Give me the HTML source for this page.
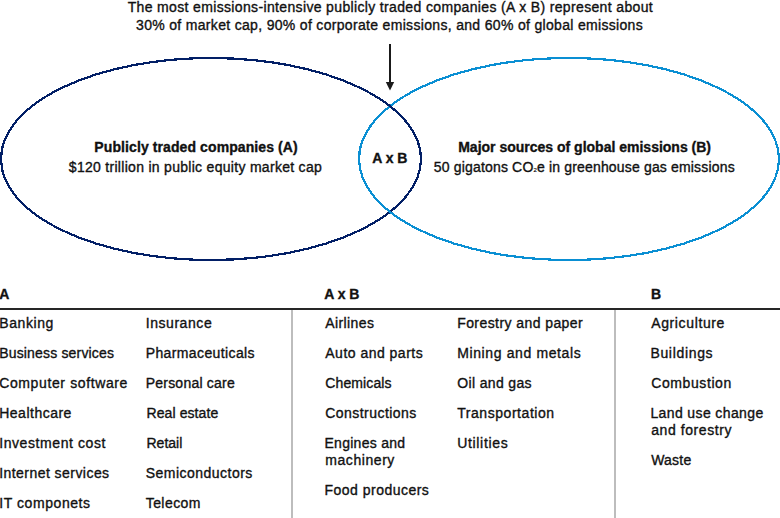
<!DOCTYPE html>
<html><head><meta charset="utf-8"><style>
html,body{margin:0;padding:0;background:#fff;width:780px;height:518px;overflow:hidden;position:relative}
.tx{position:absolute;font-family:"Liberation Sans",sans-serif;font-size:14px;line-height:20px;color:#111;white-space:nowrap;-webkit-text-stroke:0.35px #111}
.tx.c{width:600px;text-align:center}
.sub{font-size:6px;vertical-align:0;line-height:0;-webkit-text-stroke:0.2px #111}
svg{position:absolute;left:0;top:0}
</style></head><body>
<svg width="780" height="518" viewBox="0 0 780 518">
<ellipse cx="569" cy="159" rx="210" ry="101" fill="none" stroke="#0a8fd3" stroke-width="2.2" shape-rendering="crispEdges"/>
<ellipse cx="211" cy="159" rx="210" ry="101" fill="none" stroke="#021f66" stroke-width="2.2" shape-rendering="crispEdges"/>
<clipPath id="cb"><rect x="0" y="160" width="780" height="120"/></clipPath>
<ellipse clip-path="url(#cb)" cx="569" cy="159" rx="210" ry="101" fill="none" stroke="#0a8fd3" stroke-width="2.2" shape-rendering="crispEdges"/>
<line x1="390" y1="44" x2="390" y2="83" stroke="#1a1a1a" stroke-width="2"/>
<path d="M385.8 82 L394.2 82 L390 90.5 Z" fill="#1a1a1a"/>
<rect x="0" y="308" width="780" height="2" fill="#262626"/>
<rect x="291" y="310" width="2" height="208" fill="#bdbdbd"/>
<rect x="614" y="310" width="2" height="208" fill="#bdbdbd"/>
</svg>
<div id="t1" class="tx" style="left:127.65px;top:-3.00px;font-weight:400;letter-spacing:0.351px">The most emissions-intensive publicly traded companies (A x B) represent about</div>
<div id="t2" class="tx" style="left:136.04px;top:14.50px;font-weight:400;letter-spacing:0.321px">30% of market cap, 90% of corporate emissions, and 60% of global emissions</div>
<div id="e1" class="tx" style="left:94.32px;top:136.50px;font-weight:700;letter-spacing:0.096px">Publicly traded companies (A)</div>
<div id="e2" class="tx" style="left:68.82px;top:156.60px;font-weight:400;letter-spacing:0.293px">$120 trillion in public equity market cap</div>
<div id="e3" class="tx" style="left:458.20px;top:136.50px;font-weight:700;letter-spacing:0.000px">Major sources of global emissions (B)</div>
<div id="e4" class="tx" style="left:433.82px;top:156.60px;font-weight:400;letter-spacing:0.167px">50 gigatons CO<span class=sub>2</span>e in greenhouse gas emissions</div>
<div id="ax" class="tx" style="left:372.20px;top:147.82px;font-weight:700;letter-spacing:0.000px">A x B</div>
<div id="hA" class="tx" style="left:-0.80px;top:283.82px;font-weight:700;letter-spacing:0.000px">A</div>
<div id="hAB" class="tx" style="left:324.20px;top:283.82px;font-weight:700;letter-spacing:-0.000px">A x B</div>
<div id="hB" class="tx" style="left:651.00px;top:283.82px;font-weight:700;letter-spacing:0.000px">B</div>
<div id="c0_1" class="tx" style="left:-0.80px;top:313.00px;font-weight:400;letter-spacing:0.600px">Banking</div>
<div id="c0_2" class="tx" style="left:-0.80px;top:343.00px;font-weight:400;letter-spacing:0.169px">Business services</div>
<div id="c0_3" class="tx" style="left:-0.80px;top:373.00px;font-weight:400;letter-spacing:0.619px">Computer software</div>
<div id="c0_4" class="tx" style="left:-0.80px;top:403.00px;font-weight:400;letter-spacing:0.500px">Healthcare</div>
<div id="c0_5" class="tx" style="left:-0.80px;top:433.00px;font-weight:400;letter-spacing:0.579px">Investment cost</div>
<div id="c0_6" class="tx" style="left:-0.80px;top:463.00px;font-weight:400;letter-spacing:0.450px">Internet services</div>
<div id="c0_7" class="tx" style="left:-0.80px;top:493.00px;font-weight:400;letter-spacing:0.573px">IT componets</div>
<div id="c1_8" class="tx" style="left:145.70px;top:313.00px;font-weight:400;letter-spacing:0.562px">Insurance</div>
<div id="c1_9" class="tx" style="left:145.70px;top:343.00px;font-weight:400;letter-spacing:0.386px">Pharmaceuticals</div>
<div id="c1_10" class="tx" style="left:145.70px;top:373.00px;font-weight:400;letter-spacing:0.225px">Personal care</div>
<div id="c1_11" class="tx" style="left:146.50px;top:403.00px;font-weight:400;letter-spacing:0.090px">Real estate</div>
<div id="c1_12" class="tx" style="left:146.50px;top:433.00px;font-weight:400;letter-spacing:-0.000px">Retail</div>
<div id="c1_13" class="tx" style="left:145.70px;top:463.00px;font-weight:400;letter-spacing:0.485px">Semiconductors</div>
<div id="c1_14" class="tx" style="left:145.70px;top:493.00px;font-weight:400;letter-spacing:0.450px">Telecom</div>
<div id="c2_15" class="tx" style="left:325.30px;top:313.00px;font-weight:400;letter-spacing:0.386px">Airlines</div>
<div id="c2_16" class="tx" style="left:325.30px;top:343.00px;font-weight:400;letter-spacing:0.485px">Auto and parts</div>
<div id="c2_17" class="tx" style="left:325.30px;top:373.00px;font-weight:400;letter-spacing:0.113px">Chemicals</div>
<div id="c2_18" class="tx" style="left:325.30px;top:403.00px;font-weight:400;letter-spacing:0.450px">Constructions</div>
<div id="c2_19" class="tx" style="left:324.50px;top:433.00px;font-weight:400;letter-spacing:0.270px">Engines and</div>
<div id="c2_20" class="tx" style="left:325.30px;top:450.00px;font-weight:400;letter-spacing:0.562px">machinery</div>
<div id="c2_21" class="tx" style="left:324.50px;top:480.00px;font-weight:400;letter-spacing:0.485px">Food producers</div>
<div id="c3_22" class="tx" style="left:457.20px;top:313.00px;font-weight:400;letter-spacing:0.424px">Forestry and paper</div>
<div id="c3_23" class="tx" style="left:457.20px;top:343.00px;font-weight:400;letter-spacing:0.619px">Mining and metals</div>
<div id="c3_24" class="tx" style="left:457.20px;top:373.00px;font-weight:400;letter-spacing:0.360px">Oil and gas</div>
<div id="c3_25" class="tx" style="left:457.20px;top:403.00px;font-weight:400;letter-spacing:0.554px">Transportation</div>
<div id="c3_26" class="tx" style="left:457.20px;top:433.00px;font-weight:400;letter-spacing:0.675px">Utilities</div>
<div id="c4_27" class="tx" style="left:651.20px;top:313.00px;font-weight:400;letter-spacing:0.630px">Agriculture</div>
<div id="c4_28" class="tx" style="left:650.40px;top:343.00px;font-weight:400;letter-spacing:0.675px">Buildings</div>
<div id="c4_29" class="tx" style="left:651.20px;top:373.00px;font-weight:400;letter-spacing:0.600px">Combustion</div>
<div id="c4_30" class="tx" style="left:650.40px;top:403.00px;font-weight:400;letter-spacing:0.386px">Land use change</div>
<div id="c4_31" class="tx" style="left:651.20px;top:420.00px;font-weight:400;letter-spacing:0.573px">and forestry</div>
<div id="c4_32" class="tx" style="left:651.20px;top:450.00px;font-weight:400;letter-spacing:0.225px">Waste</div>
</body></html>
